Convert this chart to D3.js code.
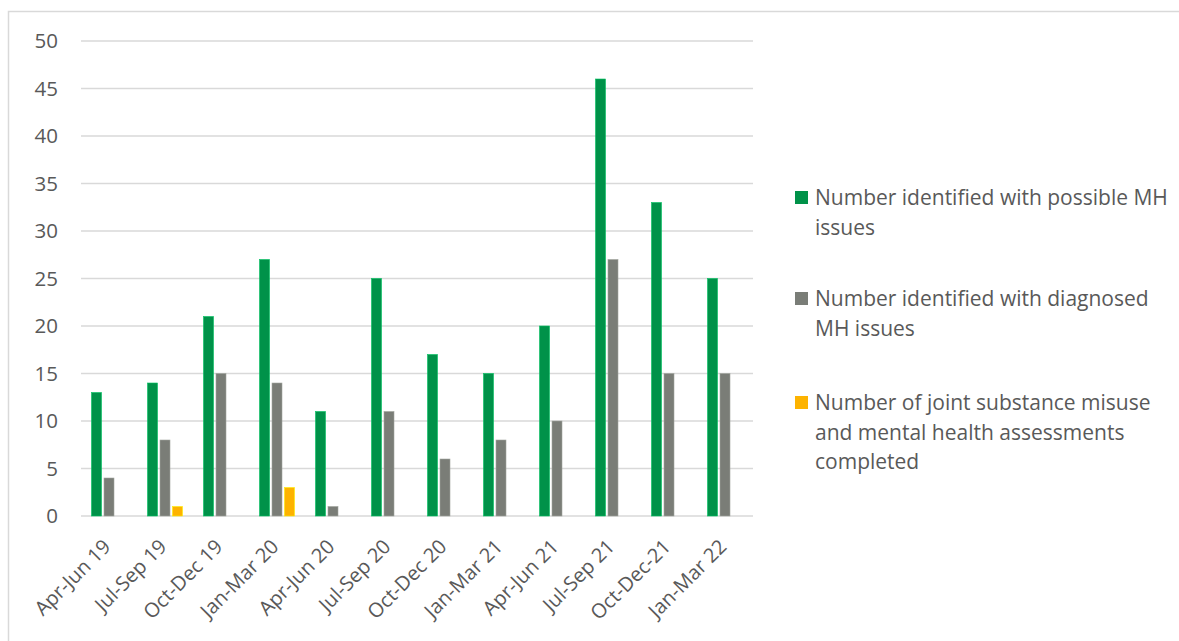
<!DOCTYPE html>
<html>
<head>
<meta charset="utf-8">
<script src="https://cdn.jsdelivr.net/npm/d3@7"></script>
<style>
  html, body { margin: 0; padding: 0; background: #fff; }
  svg { display: block; }
  text { font-family: "Open Sans", sans-serif; fill: #595959; }
</style>
</head>
<body>
<svg id="chart" width="1179" height="641"></svg>
<script>
const categories = ["Apr-Jun 19","Jul-Sep 19","Oct-Dec 19","Jan-Mar 20","Apr-Jun 20","Jul-Sep 20","Oct-Dec 20","Jan-Mar 21","Apr-Jun 21","Jul-Sep 21","Oct-Dec-21","Jan-Mar 22"];
const seriesNames = [
  ["Number identified with possible MH", "issues"],
  ["Number identified with diagnosed", "MH issues"],
  ["Number of joint substance misuse", "and mental health assessments", "completed"]
];
const possibleMH = [13,14,21,27,11,25,17,15,20,46,33,25];
const diagnosedMH = [4,8,15,14,1,11,6,8,10,27,15,15];
const jointAssessments = [0,1,0,3,0,0,0,0,0,0,0,0];
const colors = ["#009249", "#7A7D77", "#FDB300"];
const yTicks = [0,5,10,15,20,25,30,35,40,45,50];

const series = [possibleMH, diagnosedMH, jointAssessments];
const svg = d3.select("#chart");

// outer frame
svg.append("rect").attr("x", 8.5).attr("y", 11.5).attr("width", 1200).attr("height", 700)
  .attr("fill", "none").attr("stroke", "#D9D9D9").attr("stroke-width", 1.5);

const plotLeft = 81, plotRight = 753, plotTop = 41, plotBottom = 516;
const x = d3.scaleBand().domain(categories).range([plotLeft, plotRight]);
const y = d3.scaleLinear().domain([0, 50]).range([plotBottom, plotTop]);
const barW = 10, stride = 12.5;

// gridlines
svg.append("g").selectAll("line").data(yTicks).join("line")
  .attr("x1", plotLeft).attr("x2", plotRight)
  .attr("y1", d => y(d)).attr("y2", d => y(d))
  .attr("stroke", "#D9D9D9").attr("stroke-width", 1.5);

// y axis labels
svg.append("g").selectAll("text").data(yTicks).join("text")
  .attr("x", 58).attr("y", d => y(d)).attr("dy", "0.35em")
  .attr("text-anchor", "end").attr("font-size", 20.5).text(d => d);

// bars
series.forEach((vals, si) => {
  svg.append("g").selectAll("rect").data(vals.map((v, i) => ({v, c: categories[i]})).filter(d => d.v > 0))
    .join("rect")
    .attr("x", d => x(d.c) + x.bandwidth() / 2 + (si - 1) * stride - barW / 2)
    .attr("y", d => y(d.v))
    .attr("width", barW)
    .attr("height", d => y(0) - y(d.v))
    .attr("fill", colors[si])
    .attr("stroke", d3.color(colors[si]).brighter(0.8))
    .attr("stroke-width", 0.6);
});

// x labels
svg.append("g").selectAll("text").data(categories).join("text")
  .attr("transform", d => `translate(${x(d) + x.bandwidth() / 2 - 2},${543}) rotate(-45)`)
  .attr("text-anchor", "end").attr("dy", "0.35em").attr("font-size", 20).text(d => d);

// legend
const legendY = [198, 299, 403];
const lg = svg.append("g");
seriesNames.forEach((lines, i) => {
  lg.append("rect").attr("x", 795).attr("y", legendY[i] - 7).attr("width", 13).attr("height", 13)
    .attr("fill", colors[i]);
  lines.forEach((t, j) => {
    lg.append("text").attr("x", 815).attr("y", legendY[i] + j * 29.5).attr("dy", "0.35em")
      .attr("font-size", 21).text(t);
  });
});
</script>
</body>
</html>
